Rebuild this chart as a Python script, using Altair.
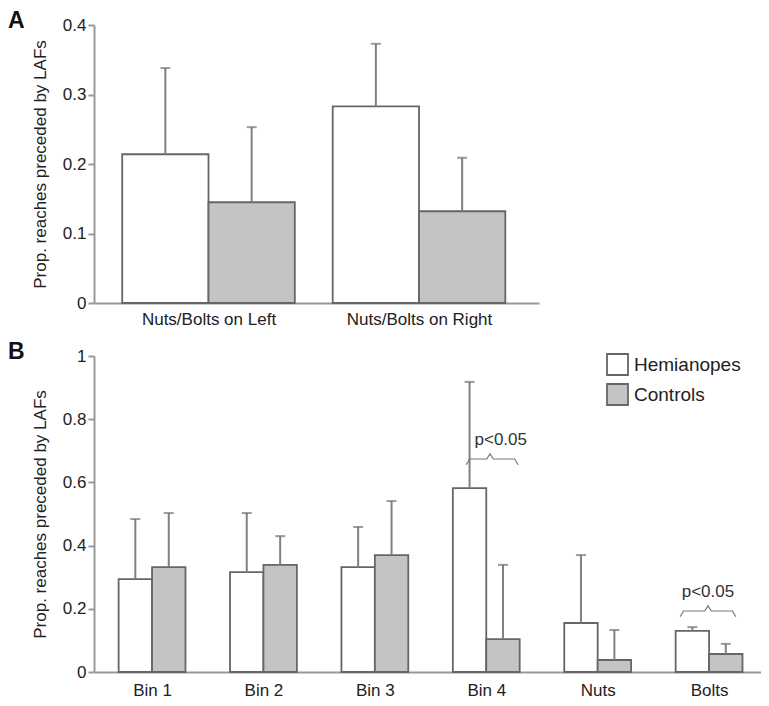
import json
import altair as alt
import pandas as pd

FONT = "Liberation Sans"

# ---------------- data ----------------
a_categories = ["Nuts/Bolts on Left", "Nuts/Bolts on Right"]
a_hemi = [0.214, 0.283]
a_hemi_upper = [0.338, 0.373]
a_ctrl = [0.145, 0.132]
a_ctrl_upper = [0.253, 0.209]

b_categories = ["Bin 1", "Bin 2", "Bin 3", "Bin 4", "Nuts", "Bolts"]
b_hemi = [0.294, 0.316, 0.332, 0.582, 0.155, 0.130]
b_hemi_upper = [0.484, 0.503, 0.459, 0.918, 0.370, 0.142]
b_ctrl = [0.332, 0.339, 0.370, 0.104, 0.038, 0.057]
b_ctrl_upper = [0.503, 0.430, 0.541, 0.339, 0.133, 0.089]

groups = ["Hemianopes", "Controls"]
fills = ["#ffffff", "#c4c4c4"]

# significance annotations (panel B)
ann_text = ["p<0.05", "p<0.05"]
ann_cat = ["Bin 4", "Bolts"]
ann_left = [-0.18, -0.26]
ann_right = [0.285, 0.24]
ann_peak = [0.034, -0.01]
ann_y = [0.674, 0.193]
ann_text_dx = [0.13, -0.01]
ann_text_y = [0.734, 0.253]

Y_TITLE = "Prop. reaches preceded by LAFs"


def bars_df(cats, hemi, hu, ctrl, cu, w):
    rows = []
    for i, c in enumerate(cats):
        pos = i + 1
        rows.append(dict(cat=c, group=groups[0], x0=pos - w, x1=pos, xc=pos - w / 2,
                         value=hemi[i], upper=hu[i], base=0))
        rows.append(dict(cat=c, group=groups[1], x0=pos, x1=pos + w, xc=pos + w / 2,
                         value=ctrl[i], upper=cu[i], base=0))
    return pd.DataFrame(rows)


def panel(df, cats, xdom, ydom, yvals, width, height, letter, label_pad, legend, extra=None):
    xscale = alt.Scale(domain=xdom, nice=False, zero=False)
    yscale = alt.Scale(domain=ydom, nice=False)
    label_expr = json.dumps(cats) + "[datum.value - 1]"
    xaxis = alt.Axis(values=list(range(1, len(cats) + 1)), labelExpr=label_expr,
                     ticks=False, grid=False, title=None, labelPadding=label_pad,
                     labelFlush=False, labelOverlap=False)
    yaxis = alt.Axis(values=yvals, format=".1~f", grid=False, title=Y_TITLE,
                     titleX=-54, titleBaseline="middle", labelFlush=False,
                     labelPadding=2)
    bars = alt.Chart(df).mark_bar(stroke="#666666", strokeWidth=1.8).encode(
        x=alt.X("x0:Q", scale=xscale, axis=xaxis),
        x2="x1:Q",
        y=alt.Y("value:Q", scale=yscale, axis=yaxis),
        y2="base:Q",
        fill=alt.Fill("group:N", scale=alt.Scale(domain=groups, range=fills), legend=legend),
    )
    err = alt.Chart(df).mark_rule(color="#808080", strokeWidth=2).encode(
        x="xc:Q", y="value:Q", y2="upper:Q")
    caps = alt.Chart(df).mark_tick(orient="horizontal", color="#707070", thickness=2, size=10).encode(
        x="xc:Q", y="upper:Q")
    lab = alt.Chart(pd.DataFrame({"t": [letter]})).mark_text(
        align="left", baseline="alphabetic", fontSize=23, fontWeight="bold",
        font=FONT, color="#111111").encode(x=alt.value(-86), y=alt.value(3), text="t:N")
    layers = [bars, err, caps]
    if extra:
        layers += extra
    layers.append(lab)
    return alt.layer(*layers).properties(width=width, height=height)


dfa = bars_df(a_categories, a_hemi, a_hemi_upper, a_ctrl, a_ctrl_upper, 0.41)
dfb = bars_df(b_categories, b_hemi, b_hemi_upper, b_ctrl, b_ctrl_upper, 0.30)

# braces
brace_rows = []
text_rows = []
for k in range(len(ann_text)):
    c = b_categories.index(ann_cat[k]) + 1
    l, r, p, y = c + ann_left[k], c + ann_right[k], c + ann_peak[k], ann_y[k]
    pts = [(l, y - 0.018), (l + 0.03, y), (p - 0.03, y), (p, y + 0.016),
           (p + 0.03, y), (r - 0.03, y), (r, y - 0.018)]
    for j, (px, py) in enumerate(pts):
        brace_rows.append(dict(id=k, order=j, bx=px, by=py))
    text_rows.append(dict(t=ann_text[k], tx=c + ann_text_dx[k], ty=ann_text_y[k]))
brace_df = pd.DataFrame(brace_rows)
text_df = pd.DataFrame(text_rows)

brace = alt.Chart(brace_df).mark_line(color="#777777", strokeWidth=1.2).encode(
    x="bx:Q", y="by:Q", detail="id:N", order="order:Q")
ptext = alt.Chart(text_df).mark_text(fontSize=17, font=FONT, color="#333333",
                                     baseline="middle", align="center").encode(
    x="tx:Q", y="ty:Q", text="t:N")

legend_b = alt.Legend(title=None, orient="none", legendX=512, legendY=-3,
                      symbolType="square", symbolSize=441, symbolStrokeColor="#666666",
                      symbolStrokeWidth=1.8, labelFontSize=19, labelFont=FONT,
                      labelColor="#222222", labelOffset=5, rowPadding=1, symbolOpacity=1)

pa = panel(dfa, a_categories, [0.456, 2.570], [0, 0.4], [0, 0.1, 0.2, 0.3, 0.4],
           445, 278, "A", 8, None)
pb = panel(dfb, b_categories, [0.479, 6.466], [0, 1], [0, 0.2, 0.4, 0.6, 0.8, 1],
           667, 316, "B", 10, legend_b, extra=[brace, ptext])

chart = alt.vconcat(pa, pb, spacing=14).resolve_scale(
    x="independent", y="independent", fill="independent"
).properties(
    padding={"left": 0, "top": 2, "right": 0, "bottom": 0},
    background="white",
).configure_view(stroke=None).configure_axis(
    domainColor="#999999", domainWidth=2, tickColor="#999999", tickWidth=2,
    tickSize=6, labelFontSize=17, labelFont=FONT, labelColor="#222222",
    titleFontSize=17, titleFont=FONT, titleColor="#222222", titleFontWeight="normal"
)

chart.save("out.html", embed_options={"renderer": "svg", "actions": False})
